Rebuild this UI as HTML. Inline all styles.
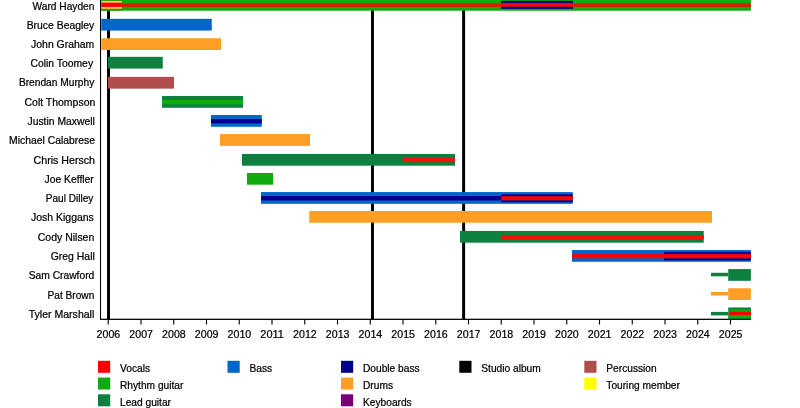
<!DOCTYPE html>
<html><head><meta charset="utf-8"><title>Timeline</title>
<style>
html,body{margin:0;padding:0;background:#fff;}
body{width:800px;height:408px;overflow:hidden;}
svg{display:block;}
text{font-family:"Liberation Sans",sans-serif;font-size:10.2px;fill:#000;stroke:#000;stroke-width:0.22px;}
</style></head><body>
<svg width="800" height="408" viewBox="0 0 800 408">
<rect x="0" y="0" width="800" height="408" fill="#ffffff"/>
<rect x="107.05" y="0" width="2.95" height="319" fill="#000"/>
<rect x="371.00" y="0" width="2.95" height="319" fill="#000"/>
<rect x="462.15" y="0" width="2.95" height="319" fill="#000"/>
<rect x="100.0" y="0" width="1.05" height="319.7" fill="#000"/>
<rect x="100.0" y="318.7" width="650.90" height="1.25" fill="#000"/>
<rect x="107.70" y="319" width="1.1" height="5.5" fill="#000"/>
<rect x="140.45" y="319" width="1.1" height="5.5" fill="#000"/>
<rect x="173.20" y="319" width="1.1" height="5.5" fill="#000"/>
<rect x="205.95" y="319" width="1.1" height="5.5" fill="#000"/>
<rect x="238.70" y="319" width="1.1" height="5.5" fill="#000"/>
<rect x="271.45" y="319" width="1.1" height="5.5" fill="#000"/>
<rect x="304.20" y="319" width="1.1" height="5.5" fill="#000"/>
<rect x="336.95" y="319" width="1.1" height="5.5" fill="#000"/>
<rect x="369.70" y="319" width="1.1" height="5.5" fill="#000"/>
<rect x="402.45" y="319" width="1.1" height="5.5" fill="#000"/>
<rect x="435.20" y="319" width="1.1" height="5.5" fill="#000"/>
<rect x="467.95" y="319" width="1.1" height="5.5" fill="#000"/>
<rect x="500.70" y="319" width="1.1" height="5.5" fill="#000"/>
<rect x="533.45" y="319" width="1.1" height="5.5" fill="#000"/>
<rect x="566.20" y="319" width="1.1" height="5.5" fill="#000"/>
<rect x="598.95" y="319" width="1.1" height="5.5" fill="#000"/>
<rect x="631.70" y="319" width="1.1" height="5.5" fill="#000"/>
<rect x="664.45" y="319" width="1.1" height="5.5" fill="#000"/>
<rect x="697.20" y="319" width="1.1" height="5.5" fill="#000"/>
<rect x="729.95" y="319" width="1.1" height="5.5" fill="#000"/>
<rect x="101.20" y="-1.03" width="649.70" height="11.75" fill="#0fab0f"/>
<rect x="101.20" y="-1.03" width="20.70" height="11.75" fill="#3a9508"/>
<rect x="101.20" y="0.95" width="20.70" height="7.80" fill="#fbc95a"/>
<rect x="101.20" y="2.70" width="20.70" height="4.30" fill="#ff0000"/>
<rect x="121.90" y="3.45" width="629.00" height="3.40" fill="#e61400"/>
<rect x="501.20" y="0.85" width="71.80" height="8.00" fill="#00008c"/>
<rect x="501.20" y="2.95" width="71.80" height="3.80" fill="#ff0000"/>
<rect x="101.20" y="18.82" width="110.55" height="11.75" fill="#0066cc"/>
<rect x="101.20" y="38.23" width="119.80" height="11.75" fill="#ff9e24"/>
<rect x="108.00" y="56.83" width="54.75" height="11.75" fill="#0d8040"/>
<rect x="108.00" y="76.88" width="66.00" height="11.75" fill="#b24d4d"/>
<rect x="162.00" y="96.03" width="81.00" height="11.75" fill="#0d8040"/>
<rect x="162.00" y="100.00" width="81.00" height="4.40" fill="#0fab0f"/>
<rect x="211.00" y="115.03" width="50.75" height="11.75" fill="#0066cc"/>
<rect x="211.00" y="119.00" width="50.75" height="4.40" fill="#00008c"/>
<rect x="220.00" y="134.07" width="90.00" height="11.75" fill="#ff9e24"/>
<rect x="242.00" y="153.93" width="213.00" height="11.75" fill="#0d8040"/>
<rect x="402.50" y="158.05" width="52.50" height="4.10" fill="#f21208"/>
<rect x="247.00" y="172.93" width="26.00" height="11.75" fill="#0fab0f"/>
<rect x="261.00" y="192.07" width="311.75" height="11.75" fill="#0066cc"/>
<rect x="261.00" y="196.05" width="240.25" height="4.40" fill="#00008c"/>
<rect x="501.25" y="194.25" width="71.50" height="8.00" fill="#00008c"/>
<rect x="501.25" y="196.20" width="71.50" height="4.10" fill="#ff0000"/>
<rect x="309.25" y="210.97" width="402.75" height="11.75" fill="#ff9e24"/>
<rect x="460.00" y="230.93" width="243.75" height="11.75" fill="#0d8040"/>
<rect x="501.25" y="234.95" width="202.50" height="4.30" fill="#f21208"/>
<rect x="572.00" y="250.03" width="178.90" height="11.75" fill="#0066cc"/>
<rect x="664.00" y="252.00" width="86.90" height="8.40" fill="#00008c"/>
<rect x="572.00" y="254.10" width="178.90" height="4.20" fill="#ff0000"/>
<rect x="711.00" y="272.80" width="17.20" height="3.50" fill="#0d8040"/>
<rect x="728.20" y="269.07" width="22.70" height="11.75" fill="#0d8040"/>
<rect x="711.00" y="292.00" width="17.20" height="3.50" fill="#ff9e24"/>
<rect x="728.20" y="288.27" width="22.70" height="11.75" fill="#ff9e24"/>
<rect x="711.00" y="311.90" width="17.20" height="3.50" fill="#0d8040"/>
<rect x="728.20" y="307.48" width="22.70" height="11.75" fill="#0d8040"/>
<rect x="729.30" y="309.35" width="21.60" height="8.60" fill="#0fab0f"/>
<rect x="729.30" y="311.70" width="21.60" height="3.30" fill="#ff0000"/>
<text x="32.60" y="9.75" textLength="61.80" lengthAdjust="spacingAndGlyphs">Ward Hayden</text>
<text x="26.70" y="28.60" textLength="67.60" lengthAdjust="spacingAndGlyphs">Bruce Beagley</text>
<text x="31.10" y="47.88" textLength="63.20" lengthAdjust="spacingAndGlyphs">John Graham</text>
<text x="30.40" y="67.16" textLength="62.70" lengthAdjust="spacingAndGlyphs">Colin Toomey</text>
<text x="18.90" y="86.44" textLength="75.40" lengthAdjust="spacingAndGlyphs">Brendan Murphy</text>
<text x="24.50" y="105.72" textLength="70.80" lengthAdjust="spacingAndGlyphs">Colt Thompson</text>
<text x="27.50" y="125.00" textLength="67.30" lengthAdjust="spacingAndGlyphs">Justin Maxwell</text>
<text x="9.10" y="144.28" textLength="85.90" lengthAdjust="spacingAndGlyphs">Michael Calabrese</text>
<text x="33.60" y="163.56" textLength="61.40" lengthAdjust="spacingAndGlyphs">Chris Hersch</text>
<text x="44.60" y="182.84" textLength="49.20" lengthAdjust="spacingAndGlyphs">Joe Keffler</text>
<text x="45.80" y="202.12" textLength="47.50" lengthAdjust="spacingAndGlyphs">Paul Dilley</text>
<text x="31.10" y="221.40" textLength="62.70" lengthAdjust="spacingAndGlyphs">Josh Kiggans</text>
<text x="37.75" y="240.68" textLength="56.55" lengthAdjust="spacingAndGlyphs">Cody Nilsen</text>
<text x="50.70" y="259.96" textLength="44.10" lengthAdjust="spacingAndGlyphs">Greg Hall</text>
<text x="28.70" y="279.24" textLength="65.60" lengthAdjust="spacingAndGlyphs">Sam Crawford</text>
<text x="47.60" y="298.52" textLength="46.70" lengthAdjust="spacingAndGlyphs">Pat Brown</text>
<text x="28.70" y="317.80" textLength="65.60" lengthAdjust="spacingAndGlyphs">Tyler Marshall</text>
<text x="108.40" y="337.75" text-anchor="middle" textLength="23.6" lengthAdjust="spacingAndGlyphs">2006</text>
<text x="141.15" y="337.75" text-anchor="middle" textLength="23.6" lengthAdjust="spacingAndGlyphs">2007</text>
<text x="173.90" y="337.75" text-anchor="middle" textLength="23.6" lengthAdjust="spacingAndGlyphs">2008</text>
<text x="206.65" y="337.75" text-anchor="middle" textLength="23.6" lengthAdjust="spacingAndGlyphs">2009</text>
<text x="239.40" y="337.75" text-anchor="middle" textLength="23.6" lengthAdjust="spacingAndGlyphs">2010</text>
<text x="272.15" y="337.75" text-anchor="middle" textLength="23.6" lengthAdjust="spacingAndGlyphs">2011</text>
<text x="304.90" y="337.75" text-anchor="middle" textLength="23.6" lengthAdjust="spacingAndGlyphs">2012</text>
<text x="337.65" y="337.75" text-anchor="middle" textLength="23.6" lengthAdjust="spacingAndGlyphs">2013</text>
<text x="370.40" y="337.75" text-anchor="middle" textLength="23.6" lengthAdjust="spacingAndGlyphs">2014</text>
<text x="403.15" y="337.75" text-anchor="middle" textLength="23.6" lengthAdjust="spacingAndGlyphs">2015</text>
<text x="435.90" y="337.75" text-anchor="middle" textLength="23.6" lengthAdjust="spacingAndGlyphs">2016</text>
<text x="468.65" y="337.75" text-anchor="middle" textLength="23.6" lengthAdjust="spacingAndGlyphs">2017</text>
<text x="501.40" y="337.75" text-anchor="middle" textLength="23.6" lengthAdjust="spacingAndGlyphs">2018</text>
<text x="534.15" y="337.75" text-anchor="middle" textLength="23.6" lengthAdjust="spacingAndGlyphs">2019</text>
<text x="566.90" y="337.75" text-anchor="middle" textLength="23.6" lengthAdjust="spacingAndGlyphs">2020</text>
<text x="599.65" y="337.75" text-anchor="middle" textLength="23.6" lengthAdjust="spacingAndGlyphs">2021</text>
<text x="632.40" y="337.75" text-anchor="middle" textLength="23.6" lengthAdjust="spacingAndGlyphs">2022</text>
<text x="665.15" y="337.75" text-anchor="middle" textLength="23.6" lengthAdjust="spacingAndGlyphs">2023</text>
<text x="697.90" y="337.75" text-anchor="middle" textLength="23.6" lengthAdjust="spacingAndGlyphs">2024</text>
<text x="730.65" y="337.75" text-anchor="middle" textLength="23.6" lengthAdjust="spacingAndGlyphs">2025</text>
<rect x="98.00" y="360.80" width="12.2" height="12" fill="#ff0000"/>
<text x="120.00" y="372.00">Vocals</text>
<rect x="98.00" y="377.55" width="12.2" height="12" fill="#0fab0f"/>
<text x="120.00" y="388.75">Rhythm guitar</text>
<rect x="98.00" y="394.30" width="12.2" height="12" fill="#0d8040"/>
<text x="120.00" y="405.50">Lead guitar</text>
<rect x="227.50" y="360.80" width="12.2" height="12" fill="#0066cc"/>
<text x="249.50" y="372.00">Bass</text>
<rect x="341.00" y="360.80" width="12.2" height="12" fill="#00008c"/>
<text x="363.00" y="372.00">Double bass</text>
<rect x="341.00" y="377.55" width="12.2" height="12" fill="#ff9e24"/>
<text x="363.00" y="388.75">Drums</text>
<rect x="341.00" y="394.30" width="12.2" height="12" fill="#780078"/>
<text x="363.00" y="405.50">Keyboards</text>
<rect x="459.30" y="360.80" width="12.2" height="12" fill="#000000"/>
<text x="481.30" y="372.00">Studio album</text>
<rect x="584.30" y="360.80" width="12.2" height="12" fill="#b24d4d"/>
<text x="606.30" y="372.00">Percussion</text>
<rect x="584.30" y="377.55" width="12.2" height="12" fill="#ffff00"/>
<text x="606.30" y="388.75">Touring member</text>
</svg>
</body></html>
